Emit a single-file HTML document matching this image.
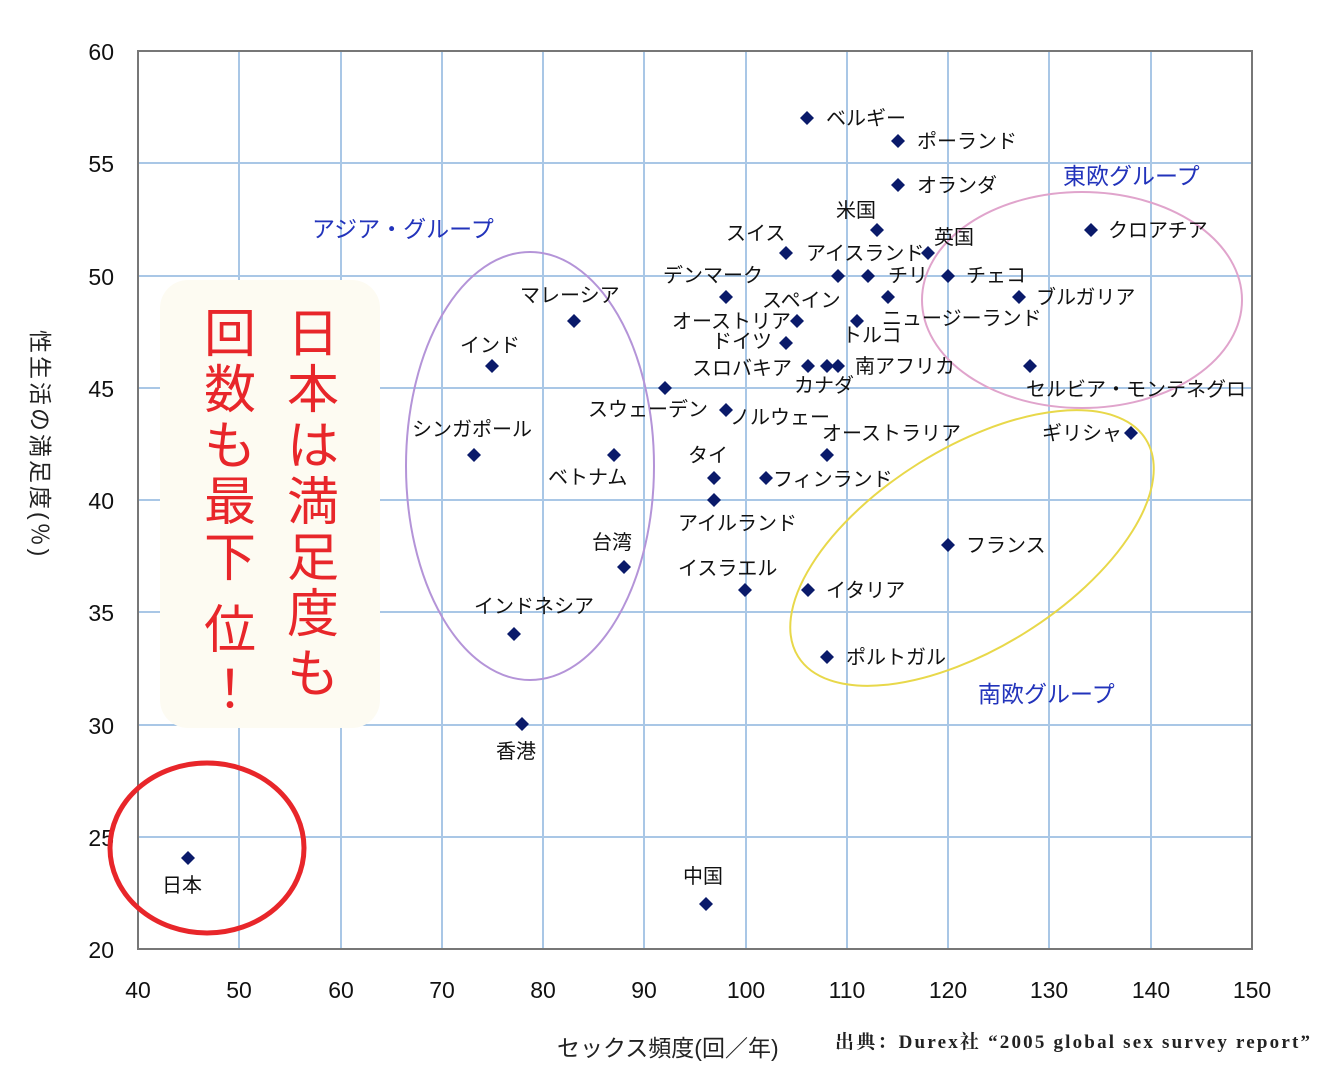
<!DOCTYPE html>
<html><head><meta charset="utf-8"><style>
body{margin:0;background:#fff;}
svg{display:block}
text{font-family:"Liberation Sans","Noto Sans CJK JP",sans-serif;}
.l{font-size:20px;fill:#111;}
.g{font-size:23px;fill:#2233bb;}
.t{font-size:23px;fill:#111;}
.r{font-size:52px;fill:#e8262a;font-family:"Noto Sans CJK JP",sans-serif;}
</style></head><body>
<svg width="1320" height="1065" xmlns="http://www.w3.org/2000/svg">
<rect width="1320" height="1065" fill="#fff"/>
<g stroke="#a9c7e6" stroke-width="2">
<line x1="239" y1="51" x2="239" y2="949"/><line x1="341" y1="51" x2="341" y2="949"/><line x1="442" y1="51" x2="442" y2="949"/><line x1="543" y1="51" x2="543" y2="949"/><line x1="644" y1="51" x2="644" y2="949"/><line x1="746" y1="51" x2="746" y2="949"/><line x1="847" y1="51" x2="847" y2="949"/><line x1="948" y1="51" x2="948" y2="949"/><line x1="1049" y1="51" x2="1049" y2="949"/><line x1="1151" y1="51" x2="1151" y2="949"/>
<line x1="138" y1="163" x2="1252" y2="163"/><line x1="138" y1="276" x2="1252" y2="276"/><line x1="138" y1="388" x2="1252" y2="388"/><line x1="138" y1="500" x2="1252" y2="500"/><line x1="138" y1="612" x2="1252" y2="612"/><line x1="138" y1="725" x2="1252" y2="725"/><line x1="138" y1="837" x2="1252" y2="837"/>
</g>
<rect x="138" y="51" width="1114" height="898" fill="none" stroke="#777" stroke-width="2"/>
<g class="t" text-anchor="end">
<text x="114" y="60">60</text><text x="114" y="172">55</text><text x="114" y="285">50</text><text x="114" y="397">45</text><text x="114" y="509">40</text><text x="114" y="621">35</text><text x="114" y="734">30</text><text x="114" y="846">25</text><text x="114" y="958">20</text>
</g>
<g class="t" text-anchor="middle">
<text x="138" y="998">40</text><text x="239" y="998">50</text><text x="341" y="998">60</text><text x="442" y="998">70</text><text x="543" y="998">80</text><text x="644" y="998">90</text><text x="746" y="998">100</text><text x="847" y="998">110</text><text x="948" y="998">120</text><text x="1049" y="998">130</text><text x="1151" y="998">140</text><text x="1252" y="998">150</text>
</g>
<text x="557" y="1056" font-size="23" fill="#222">セックス頻度(回／年)</text>
<text x="835" y="1048" font-size="19" font-weight="bold" fill="#222" textLength="475" style="font-family:'Liberation Serif','Noto Serif CJK SC',serif">出典：Durex社 “2005 global sex survey report”</text>
<text transform="translate(32,330) rotate(90)" font-size="23" fill="#222" letter-spacing="3">性生活の満足度(％)</text>
<rect x="160" y="280" width="220" height="448" rx="28" fill="#fdfbf2"/>
<ellipse cx="530" cy="466" rx="124" ry="214" fill="none" stroke="#b494d8" stroke-width="2"/>
<ellipse cx="1082" cy="300" rx="160" ry="108" fill="none" stroke="#e0a4cc" stroke-width="2"/>
<ellipse cx="972" cy="548" rx="205" ry="100" transform="rotate(-32 972 548)" fill="none" stroke="#e8d84a" stroke-width="2"/>
<ellipse cx="207" cy="848" rx="97" ry="85" fill="none" stroke="#e8262a" stroke-width="5"/>
<g fill="#0a1a6a">
<path d="M807 111l7 7-7 7-7-7z"/><path d="M898 134l7 7-7 7-7-7z"/><path d="M898 178l7 7-7 7-7-7z"/><path d="M877 223l7 7-7 7-7-7z"/><path d="M1091 223l7 7-7 7-7-7z"/><path d="M786 246l7 7-7 7-7-7z"/><path d="M928 246l7 7-7 7-7-7z"/><path d="M838 269l7 7-7 7-7-7z"/><path d="M868 269l7 7-7 7-7-7z"/><path d="M948 269l7 7-7 7-7-7z"/><path d="M726 290l7 7-7 7-7-7z"/><path d="M888 290l7 7-7 7-7-7z"/><path d="M1019 290l7 7-7 7-7-7z"/><path d="M574 314l7 7-7 7-7-7z"/><path d="M797 314l7 7-7 7-7-7z"/><path d="M857 314l7 7-7 7-7-7z"/><path d="M786 336l7 7-7 7-7-7z"/><path d="M492 359l7 7-7 7-7-7z"/><path d="M808 359l7 7-7 7-7-7z"/><path d="M827 359l7 7-7 7-7-7z"/><path d="M838 359l7 7-7 7-7-7z"/><path d="M1030 359l7 7-7 7-7-7z"/><path d="M665 381l7 7-7 7-7-7z"/><path d="M726 403l7 7-7 7-7-7z"/><path d="M474 448l7 7-7 7-7-7z"/><path d="M614 448l7 7-7 7-7-7z"/><path d="M827 448l7 7-7 7-7-7z"/><path d="M1131 426l7 7-7 7-7-7z"/><path d="M714 471l7 7-7 7-7-7z"/><path d="M766 471l7 7-7 7-7-7z"/><path d="M714 493l7 7-7 7-7-7z"/><path d="M624 560l7 7-7 7-7-7z"/><path d="M948 538l7 7-7 7-7-7z"/><path d="M745 583l7 7-7 7-7-7z"/><path d="M808 583l7 7-7 7-7-7z"/><path d="M514 627l7 7-7 7-7-7z"/><path d="M827 650l7 7-7 7-7-7z"/><path d="M522 717l7 7-7 7-7-7z"/><path d="M188 851l7 7-7 7-7-7z"/><path d="M706 897l7 7-7 7-7-7z"/>
</g>
<g class="l">
<text x="826" y="125">ベルギー</text><text x="917" y="148">ポーランド</text><text x="917" y="192">オランダ</text><text x="836" y="217">米国</text><text x="1108" y="237">クロアチア</text><text x="726" y="240">スイス</text><text x="806" y="260">アイスランド</text><text x="934" y="244">英国</text><text x="663" y="282">デンマーク</text><text x="888" y="282">チリ</text><text x="966" y="282">チェコ</text><text x="762" y="307">スペイン</text><text x="1036" y="304">ブルガリア</text><text x="520" y="302">マレーシア</text><text x="672" y="328">オーストリア</text><text x="882" y="325">ニュージーランド</text><text x="712" y="348">ドイツ</text><text x="842" y="342">トルコ</text><text x="460" y="352">インド</text><text x="692" y="375">スロバキア</text><text x="855" y="373">南アフリカ</text><text x="794" y="392">カナダ</text><text x="1026" y="396">セルビア・モンテネグロ</text><text x="588" y="416">スウェーデン</text><text x="730" y="424">ノルウェー</text><text x="412" y="436">シンガポール</text><text x="822" y="440">オーストラリア</text><text x="1042" y="440">ギリシャ</text><text x="688" y="462">タイ</text><text x="548" y="484">ベトナム</text><text x="773" y="486">フィンランド</text><text x="678" y="530">アイルランド</text><text x="592" y="549">台湾</text><text x="966" y="552">フランス</text><text x="678" y="575">イスラエル</text><text x="826" y="597">イタリア</text><text x="474" y="613">インドネシア</text><text x="846" y="664">ポルトガル</text><text x="496" y="758">香港</text><text x="162" y="892">日本</text><text x="683" y="883">中国</text>
</g>
<text class="g" x="312" y="237">アジア・グループ</text>
<text class="g" x="1063" y="184">東欧グループ</text>
<text class="g" x="978" y="702">南欧グループ</text>
<g class="r" text-anchor="middle">
<text x="313" y="352">日</text><text x="313" y="408">本</text><text x="313" y="464">は</text><text x="313" y="520">満</text><text x="313" y="576">足</text><text x="313" y="632">度</text><text x="313" y="692">も</text>
<text x="230" y="352">回</text><text x="230" y="408">数</text><text x="230" y="464">も</text><text x="230" y="520">最</text><text x="230" y="576">下</text><text x="230" y="648">位</text><text x="230" y="708">！</text>
</g>
</svg>
</body></html>
